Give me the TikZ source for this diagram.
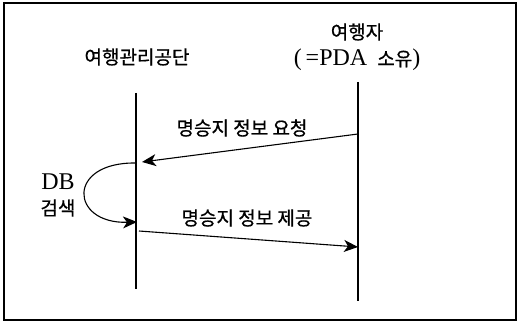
\documentclass[tikz,border=0pt]{standalone}
\usepackage{fontspec}
\setmainfont{Liberation Serif}
\newfontfamily\kr[FakeBold=0.7]{Noto Sans CJK KR}
\newcommand\krsize{\kr\fontsize{19pt}{22pt}\selectfont}
\newcommand\latsize{\fontsize{24pt}{26pt}\selectfont}
\usetikzlibrary{arrows.meta}
\begin{document}
\begin{tikzpicture}[x=1pt,y=-1pt,
  lifeline/.style={line width=1.1pt},
  msg/.style={line width=1.1pt,-{Stealth[length=14pt,width=12pt,inset=4pt]}},
  krlabel/.style={inner sep=0pt,font=\krsize},
  latlabel/.style={inner sep=0pt,font=\latsize}]
\useasboundingbox (0,0) rectangle (519,323);
\draw[line width=1.8pt] (4,3) rectangle (516,320);
% lifelines
\coordinate (Ltop) at (136,93);
\coordinate (Lbot) at (136,289);
\coordinate (Rtop) at (358,82);
\coordinate (Rbot) at (358,301);
\draw[lifeline] (Ltop) -- (Lbot);
\draw[lifeline] (Rtop) -- (Rbot);
% headers
\node[krlabel] (agency) at (137,57) {여행관리공단};
\node[krlabel] (trav) at (357,32) {여행자};
\node[latlabel] (pda) at (357,60) {(\,=PDA\, {\krsize 소유})};
% messages
\coordinate (r1) at (358,134);
\coordinate (l1) at (142,162);
\draw[msg] (r1) -- (l1);
\node[krlabel] (req) at (242,128) {명승지 정보 요청};
\coordinate (c0) at (136,163);
\coordinate (c1) at (137,222);
\draw[msg] (c0) .. controls (66,162) and (70,224) .. (c1);
\node[latlabel] (db) at (58,182) {DB};
\node[krlabel] (search) at (58,208) {검색};
\coordinate (l2) at (139,231);
\coordinate (r2) at (358,247);
\draw[msg] (l2) -- (r2);
\node[krlabel] (prov) at (247,218) {명승지 정보 제공};
\end{tikzpicture}
\end{document}
